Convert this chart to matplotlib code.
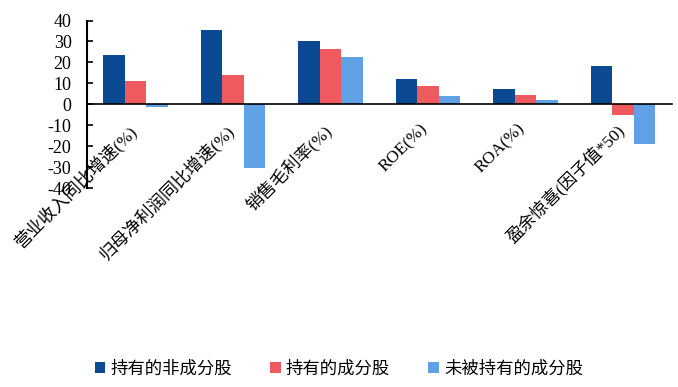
import matplotlib
matplotlib.use("Agg")
import matplotlib.pyplot as plt
import numpy as np

plt.rcParams['font.family'] = ['Liberation Serif', 'Noto Sans CJK SC', 'DejaVu Sans']

categories = ["营业收入同比增速(%)", "归母净利润同比增速(%)", "销售毛利率(%)",
              "ROE(%)", "ROA(%)", "盈余惊喜(因子值*50)"]
series_names = ["持有的非成分股", "持有的成分股", "未被持有的成分股"]
held_non_constituent = [23.3, 35.5, 30.4, 12.3, 7.2, 18.2]
held_constituent = [11.3, 13.9, 26.3, 8.8, 4.4, -5.1]
unheld_constituent = [-1.1, -30.5, 22.5, 4.1, 2.1, -19.1]
yticks = [-40, -30, -20, -10, 0, 10, 20, 30, 40]

colors = ["#0B4A92", "#EF5A5F", "#60A0E4"]

fig = plt.figure(figsize=(6.78, 3.87), dpi=100)
ax = fig.add_axes([0.128, 0.514, 0.863, 0.433])

x = np.arange(len(categories))
w = 0.22
for k, (vals, c, n) in enumerate(zip([held_non_constituent, held_constituent, unheld_constituent], colors, series_names)):
    ax.bar(x + (k - 1) * w, vals, width=w, color=c, label=n, zorder=2)

ax.set_xlim(-0.5, len(categories) - 0.5)
ax.set_ylim(-40, 40)
ax.set_yticks(yticks)
ax.set_yticklabels([str(v) for v in yticks], fontsize=13)
ax.tick_params(axis='y', direction='in', length=4, width=1.2, pad=11)
ax.spines['left'].set_linewidth(1.5)
ax.spines['right'].set_visible(False)
ax.spines['top'].set_visible(False)
ax.spines['bottom'].set_position(('data', 0))
ax.spines['bottom'].set_linewidth(1.2)
ax.set_xticks(x)
ax.set_xticklabels([])
ax.tick_params(axis='x', length=0)

for i, lab in enumerate(categories):
    ax.annotate(lab, xy=(i, 0), xycoords='data', xytext=(-6, -12), textcoords='offset points',
                rotation=45, ha='right', va='top', rotation_mode='anchor', fontsize=12.5)

leg = fig.legend(loc='center', bbox_to_anchor=(0.5, 0.045), ncol=3, frameon=False,
                 fontsize=12.5, handlelength=0.6, handleheight=0.6, handletextpad=0.3,
                 columnspacing=2.2)

fig.savefig("out.png", dpi=100)
